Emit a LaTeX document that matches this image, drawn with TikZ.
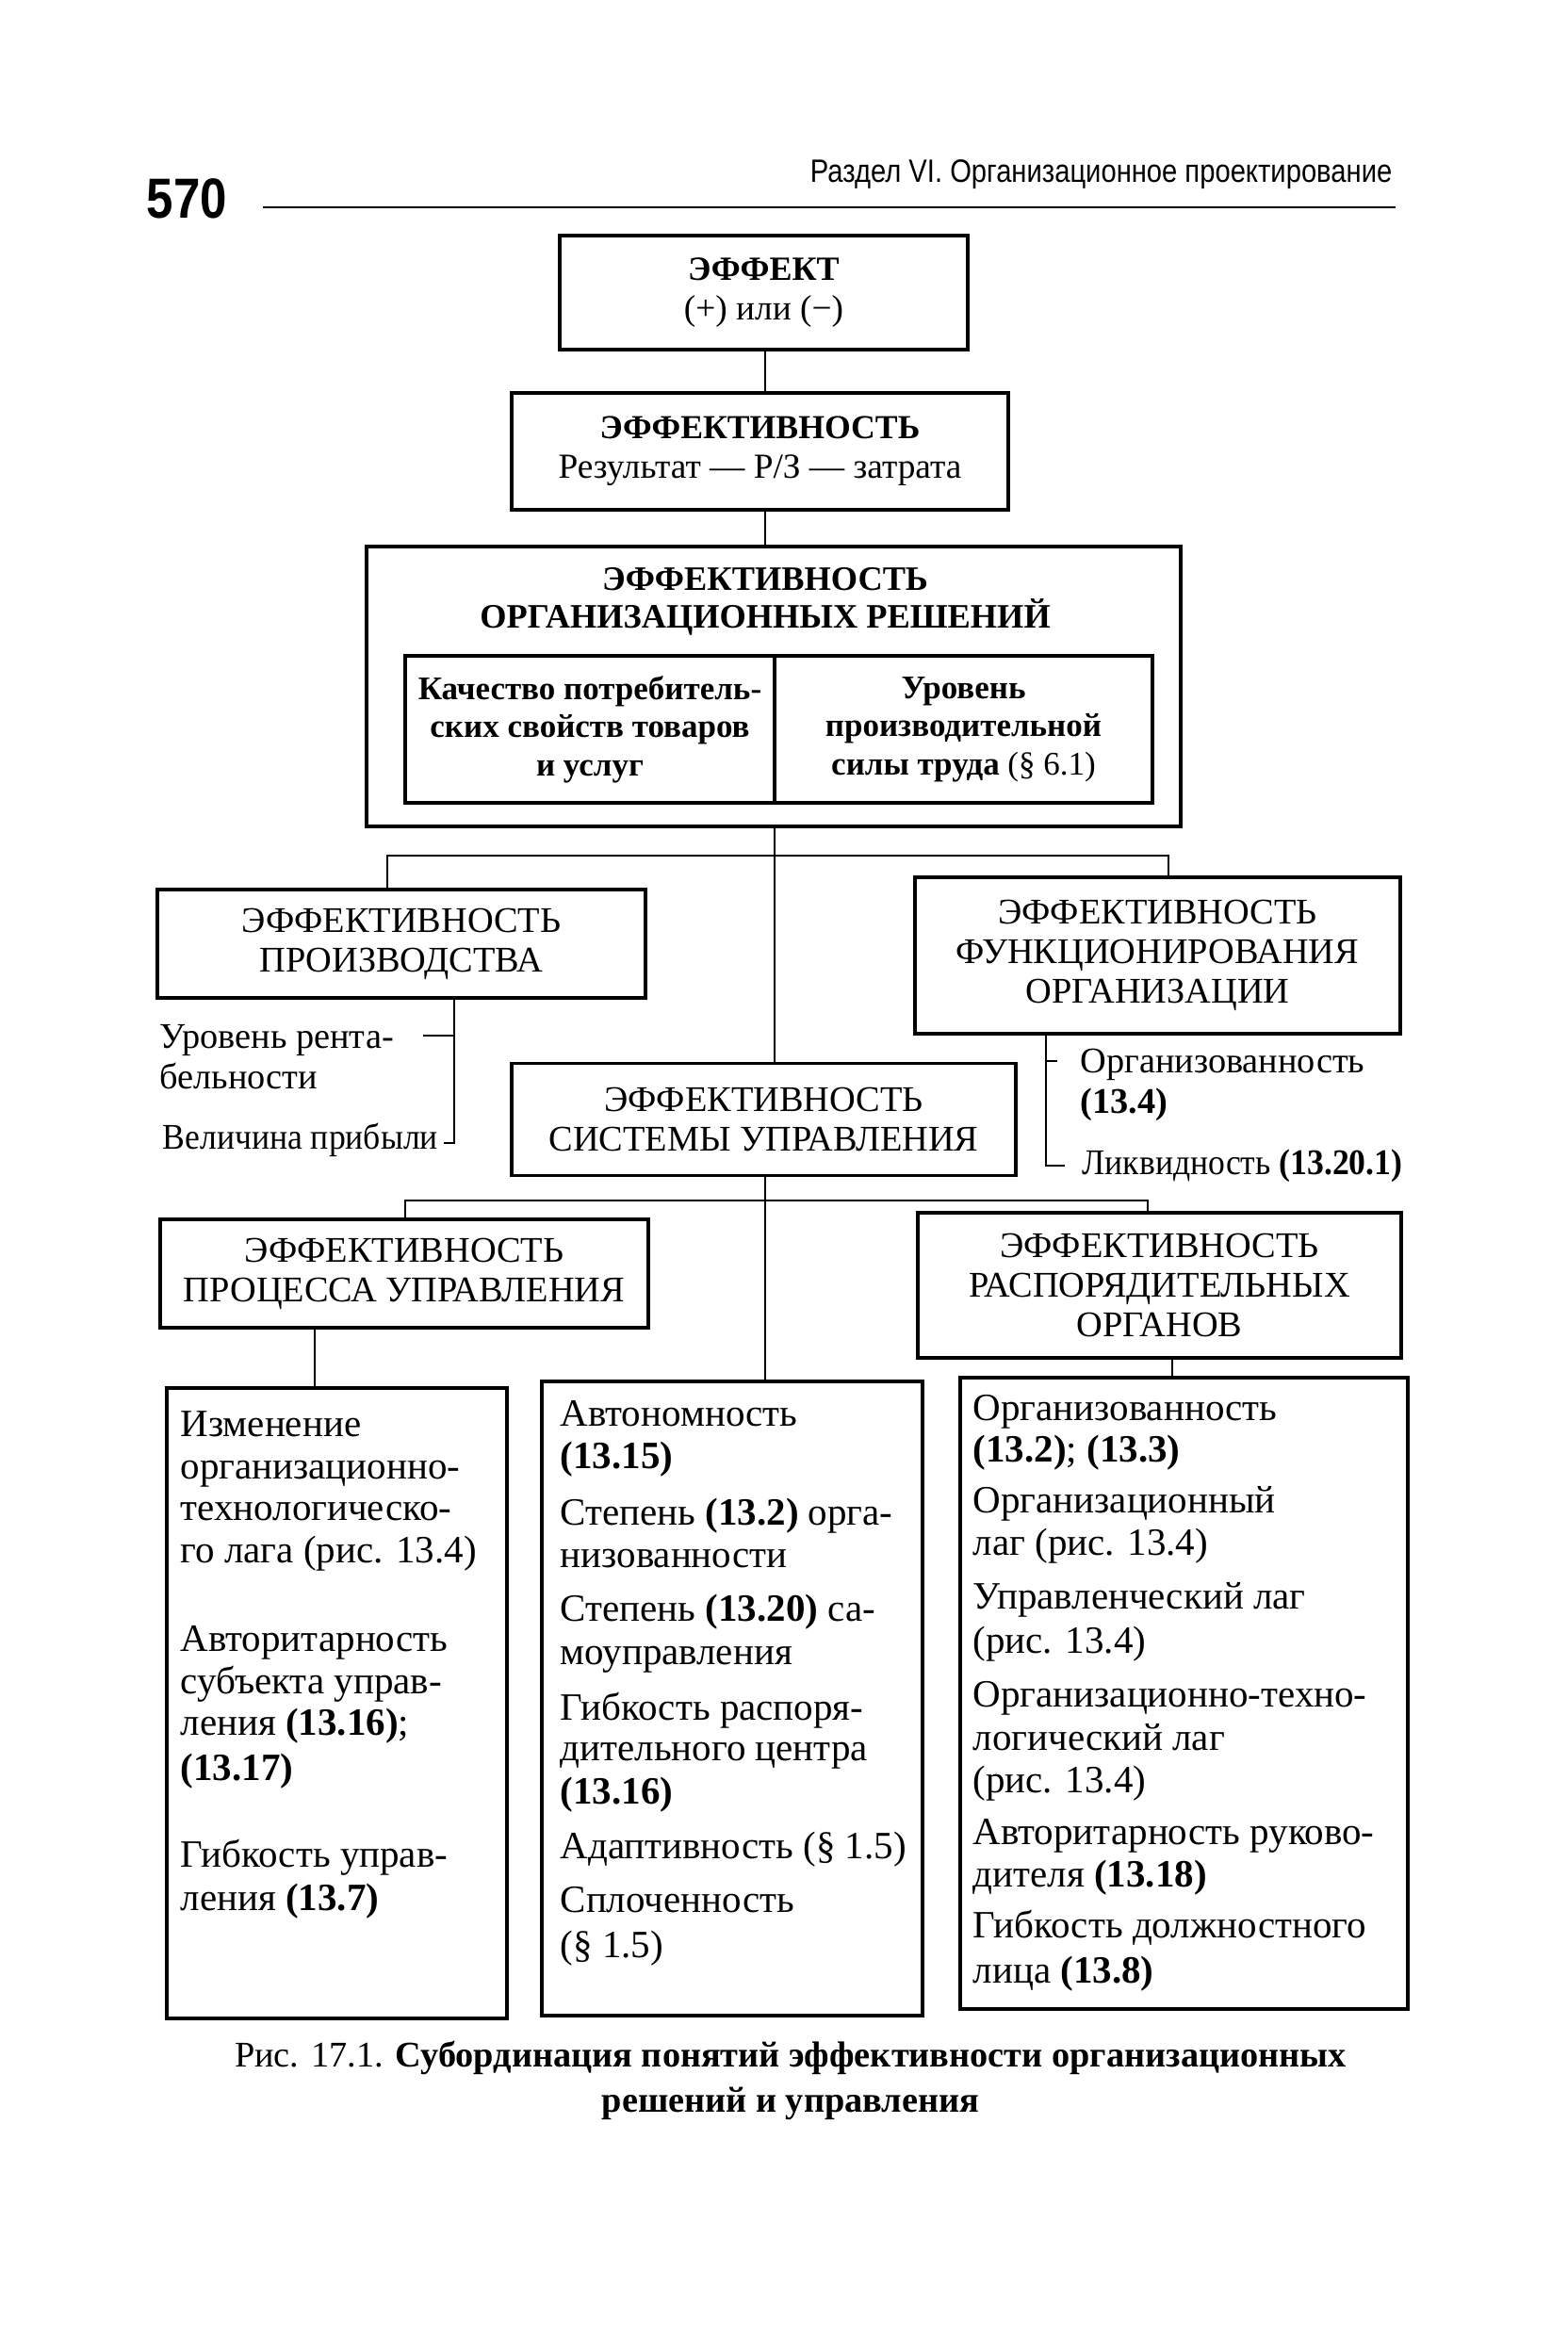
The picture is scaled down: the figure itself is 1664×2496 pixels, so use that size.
\documentclass[tikz,border=0pt]{standalone}
\usepackage{fontspec}
\setmainfont{Liberation Serif}
\newfontfamily\hdrfont[FakeStretch=0.85]{Liberation Sans}
\newfontfamily\narrowfont[FakeStretch=0.93]{Liberation Serif}
\begin{document}
\begin{tikzpicture}[x=0.3pt, y=-0.3pt,
  box/.style={draw, line width=1.1pt, inner sep=0pt, align=center},
  topf/.style={font=\fontsize{11.2}{12.6}\selectfont},
  midf/.style={font=\fontsize{11.5}{12.6}\selectfont},
  botf/.style={font=\fontsize{12.3}{14}\selectfont, anchor=base west, inner sep=0pt},
  sidef/.style={font=\fontsize{11.5}{13}\selectfont, anchor=base west, inner sep=0pt},
  conn/.style={line width=0.6pt}]
\fill[white] (0,0) rectangle (1664,2496);
\useasboundingbox (0,0) rectangle (1664,2496);

% header
\node[font=\hdrfont\bfseries\fontsize{18}{20}\selectfont, anchor=base west, inner sep=0pt] (pnum) at (155,231) {570};
\node[font=\hdrfont\fontsize{10.3}{12}\selectfont, anchor=base east, inner sep=0pt] (htitle) at (1478,193) {Раздел VI. Организационное проектирование};
\coordinate (hrl) at (279,220);
\coordinate (hrr) at (1481,220);
\draw[conn] (hrl) -- (hrr);

% top chain
\node[box, topf, minimum width=129.9pt, minimum height=36.3pt] (effect) at (810.5,310.5)
  {{\fontsize{10.8}{12.6}\selectfont\textbf{ЭФФЕКТ}}\\(+) или (−)};
\node[box, topf, minimum width=158.1pt, minimum height=37.2pt] (effic) at (806.5,479)
  {{\fontsize{10.7}{12.3}\selectfont\textbf{ЭФФЕКТИВНОСТЬ}}\\Результат — Р/З — затрата};
\node[box, minimum width=259.2pt, minimum height=89.1pt] (orgdec) at (821,728.5) {};
\node[font=\bfseries\fontsize{10.9}{12}\selectfont, align=center, inner sep=0pt] (orgtitle) at (812,638)
  {ЭФФЕКТИВНОСТЬ\\ОРГАНИЗАЦИОННЫХ РЕШЕНИЙ};
\node[box, font=\fontsize{10.5}{12.2}\selectfont, minimum width=117.6pt, minimum height=46.8pt] (quality) at (626,774)
  {\textbf{Качество потребитель-}\\\textbf{ских свойств товаров}\\\textbf{и услуг}};
\node[box, font=\fontsize{10.5}{12.2}\selectfont, minimum width=120.3pt, minimum height=46.8pt] (labour) at (1022.5,774)
  {\textbf{Уровень}\\\textbf{производительной}\\\textbf{силы труда} (§ 6.1)};

\coordinate (sp1) at (812,0);
\draw[conn] (effect.south -| sp1) -- (effic.north -| sp1);
\draw[conn] (effic.south -| sp1) -- (orgdec.north -| sp1);

% middle tier
\node[box, midf, minimum width=155.4pt, minimum height=34.5pt] (prod) at (426,1001.5)
  {ЭФФЕКТИВНОСТЬ\\ПРОИЗВОДСТВА};
\node[box, midf, minimum width=154.5pt, minimum height=49.8pt] (func) at (1228.5,1014)
  {ЭФФЕКТИВНОСТЬ\\ФУНКЦИОНИРОВАНИЯ\\ОРГАНИЗАЦИИ};
\node[box, midf, minimum width=160.5pt, minimum height=35.7pt] (sys) at (810.5,1188)
  {ЭФФЕКТИВНОСТЬ\\СИСТЕМЫ УПРАВЛЕНИЯ};

\coordinate (sp2) at (822,0);
\coordinate (bus1l) at (411,908);
\coordinate (bus1r) at (1240,908);
\draw[conn] (orgdec.south -| sp2) -- (sys.north -| sp2);
\draw[conn] (prod.north -| bus1l) -- (bus1l) -- (bus1r) -- (func.north -| bus1r);

% left bracket
\node[sidef] (rent1) at (169,1112) {Уровень рента-};
\node[sidef] (rent2) at (169,1155) {бельности};
\node[sidef, font=\narrowfont\fontsize{11.5}{13}\selectfont] (profit) at (172,1219) {Величина прибыли};
\coordinate (brl) at (482,1213);
\coordinate (brlt) at (449,1099);
\coordinate (brlb) at (471,1213);
\draw[conn] (prod.south -| brl) -- (brl) -- (brlb);
\draw[conn] (brlt) -- (brlt -| brl);

% right bracket
\node[sidef] (orgn1) at (1146,1138) {Организованность};
\node[sidef] (orgn2) at (1146,1181) {\textbf{(13.4)}};
\node[sidef, font=\narrowfont\fontsize{11.5}{13}\selectfont] (liq) at (1148,1246) {Ликвидность \textbf{(13.20.1)}};
\coordinate (brr) at (1110,1237);
\coordinate (brrt) at (1122,1126);
\coordinate (brrb) at (1130,1237);
\draw[conn] (func.south -| brr) -- (brr) -- (brrb);
\draw[conn] (brrt) -- (brrt -| brr);

% lower tier
\node[box, midf, minimum width=155.4pt, minimum height=34.5pt] (proc) at (429,1351.5)
  {ЭФФЕКТИВНОСТЬ\\ПРОЦЕССА УПРАВЛЕНИЯ};
\node[box, midf, minimum width=153.9pt, minimum height=46.2pt] (rasp) at (1230.5,1364)
  {ЭФФЕКТИВНОСТЬ\\РАСПОРЯДИТЕЛЬНЫХ\\ОРГАНОВ};

\node[box, minimum width=108.3pt, minimum height=200.7pt] (colL) at (357.5,1807.5) {};
\node[box, minimum width=121.2pt, minimum height=201.9pt] (colM) at (777,1802.5) {};
\node[box, minimum width=142.5pt, minimum height=201pt] (colR) at (1256.5,1797) {};

\coordinate (sp3) at (812,0);
\coordinate (bus2l) at (430,1274);
\coordinate (bus2r) at (1218,1274);
\coordinate (dl) at (334,0);
\coordinate (dr) at (1244,0);
\draw[conn] (sys.south -| sp3) -- (colM.north -| sp3);
\draw[conn] (proc.north -| bus2l) -- (bus2l) -- (bus2r) -- (rasp.north -| bus2r);
\draw[conn] (proc.south -| dl) -- (colL.north -| dl);
\draw[conn] (rasp.south -| dr) -- (colR.north -| dr);

% column texts
\foreach \yy/\tt [count=\i] in {
  1514/Изменение,
  1559/организационно-,
  1603/технологическо-,
  1648/го лага (рис. 13.4),
  1742/Авторитарность,
  1787/субъекта управ-,
  1831/ления \textbf{(13.16)};,
  1879/\textbf{(13.17)},
  1971/Гибкость управ-,
  2017/ления \textbf{(13.7)}}
  \node[botf] (tl\i) at (191,\yy+10) {\tt};

\foreach \yy/\tt [count=\i] in {
  1503/Автономность,
  1548/\textbf{(13.15)},
  1608/Степень \textbf{(13.2)} орга-,
  1653/низованности,
  1710/Степень \textbf{(13.20)} са-,
  1756/моуправления,
  1815/Гибкость распоря-,
  1858/дительного центра,
  1904/\textbf{(13.16)},
  1962/Адаптивность (§ 1.5),
  2019/Сплоченность,
  2067/(§ 1.5)}
  \node[botf] (tm\i) at (594,\yy+10) {\tt};

\foreach \yy/\tt [count=\i] in {
  1497/Организованность,
  1541/\textbf{(13.2)}; \textbf{(13.3)},
  1595/Организационный,
  1640/лаг (рис. 13.4),
  1697/Управленческий лаг,
  1744/(рис. 13.4),
  1801/Организационно-техно-,
  1847/логический лаг,
  1892/(рис. 13.4),
  1947/Авторитарность руково-,
  1992/дителя \textbf{(13.18)},
  2046/Гибкость должностного,
  2094/лица \textbf{(13.8)}}
  \node[botf] (tr\i) at (1032,\yy+10) {\tt};

% caption
\node[font=\fontsize{11.5}{14.4}\selectfont, align=center, inner sep=0pt] (caption) at (839,2208)
  {Рис. 17.1. \textbf{Субординация понятий эффективности организационных}\\\textbf{решений и управления}};
\end{tikzpicture}
\end{document}
